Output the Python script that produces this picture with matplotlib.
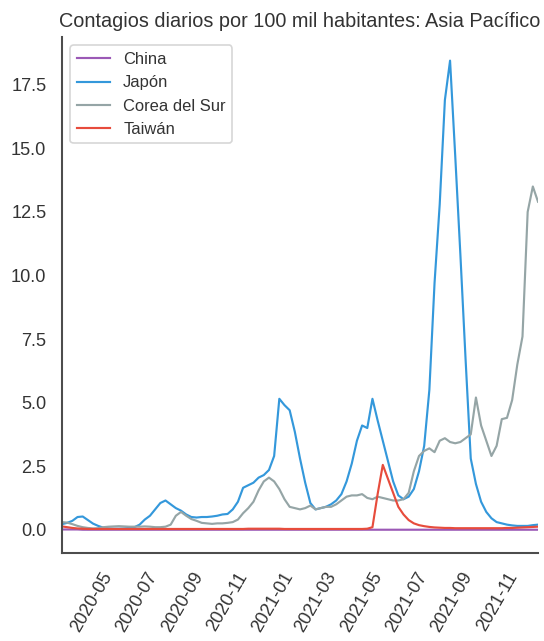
import matplotlib
matplotlib.use("Agg")
import matplotlib.pyplot as plt
import matplotlib.dates as mdates
import pandas as pd

# una muestra por semana, 2020-03-22 .. 2021-12-26
fechas = pd.date_range("2020-03-22", periods=93, freq="7D")

china = [0.01, 0.01, 0.01, 0.01, 0.0, 0.0, 0.0, 0.0, 0.0, 0.0,
         0.0, 0.0, 0.0, 0.0, 0.0, 0.0, 0.0, 0.0, 0.0, 0.0,
         0.0, 0.0, 0.0, 0.0, 0.0, 0.0, 0.0, 0.0, 0.0, 0.0,
         0.0, 0.0, 0.0, 0.0, 0.0, 0.0, 0.0, 0.0, 0.0, 0.0,
         0.0, 0.0, 0.0, 0.0, 0.0, 0.0, 0.0, 0.0, 0.0, 0.0,
         0.0, 0.0, 0.0, 0.0, 0.0, 0.0, 0.0, 0.0, 0.0, 0.0,
         0.0, 0.0, 0.0, 0.0, 0.0, 0.0, 0.0, 0.0, 0.0, 0.0,
         0.0, 0.0, 0.0, 0.0, 0.0, 0.0, 0.0, 0.0, 0.0, 0.0,
         0.0, 0.0, 0.0, 0.0, 0.0, 0.0, 0.0, 0.0, 0.0, 0.0,
         0.0, 0.0, 0.0]

japon = [0.22, 0.27, 0.35, 0.5, 0.52, 0.38, 0.24, 0.15, 0.08, 0.05,
         0.04, 0.04, 0.05, 0.07, 0.1, 0.2, 0.4, 0.55, 0.8, 1.05,
         1.15, 1.0, 0.85, 0.75, 0.6, 0.5, 0.48, 0.5, 0.5, 0.52,
         0.55, 0.6, 0.62, 0.8, 1.1, 1.65, 1.75, 1.85, 2.05, 2.15,
         2.35, 2.9, 5.15, 4.9, 4.7, 3.85, 2.8, 1.85, 1.05, 0.8,
         0.85, 0.9, 1.0, 1.15, 1.4, 1.9, 2.6, 3.5, 4.1, 4.0,
         5.15, 4.3, 3.5, 2.7, 1.9, 1.35, 1.2, 1.3, 1.6, 2.3,
         3.3, 5.5, 9.7, 12.8, 16.9, 18.45, 14.7, 10.8, 6.7, 2.8,
         1.8, 1.1, 0.7, 0.45, 0.3, 0.25, 0.2, 0.17, 0.15, 0.15,
         0.15, 0.18, 0.2]

corea = [0.3, 0.28, 0.22, 0.15, 0.1, 0.07, 0.05, 0.06, 0.1, 0.12,
         0.13, 0.14, 0.13, 0.12, 0.12, 0.12, 0.13, 0.12, 0.1, 0.1,
         0.12, 0.2, 0.55, 0.7, 0.55, 0.42, 0.35, 0.27, 0.25, 0.23,
         0.25, 0.25, 0.27, 0.3, 0.4, 0.65, 0.85, 1.1, 1.55, 1.9,
         2.05, 1.9, 1.6, 1.2, 0.9, 0.85, 0.8, 0.85, 0.95, 0.8,
         0.85, 0.9, 0.9, 1.0, 1.15, 1.3, 1.35, 1.35, 1.4, 1.25,
         1.2, 1.3, 1.25, 1.2, 1.15, 1.15, 1.2, 1.45, 2.3, 2.9,
         3.1, 3.2, 3.05, 3.5, 3.6, 3.45, 3.4, 3.45, 3.6, 3.75,
         5.2, 4.1, 3.5, 2.9, 3.3, 4.35, 4.4, 5.1, 6.5, 7.6,
         12.5, 13.5, 12.9]

taiwan = [0.13, 0.1, 0.07, 0.05, 0.04, 0.03, 0.03, 0.03, 0.03, 0.03,
          0.03, 0.03, 0.03, 0.03, 0.03, 0.03, 0.03, 0.03, 0.03, 0.03,
          0.03, 0.03, 0.03, 0.03, 0.03, 0.03, 0.03, 0.03, 0.03, 0.03,
          0.03, 0.03, 0.03, 0.03, 0.03, 0.03, 0.04, 0.04, 0.04, 0.04,
          0.04, 0.04, 0.04, 0.03, 0.03, 0.03, 0.03, 0.03, 0.03, 0.03,
          0.03, 0.03, 0.03, 0.03, 0.03, 0.03, 0.03, 0.03, 0.03, 0.04,
          0.1, 1.4, 2.55, 2.0, 1.45, 0.9, 0.6, 0.38, 0.25, 0.18,
          0.14, 0.11, 0.09, 0.08, 0.07, 0.07, 0.06, 0.06, 0.06, 0.06,
          0.06, 0.06, 0.06, 0.06, 0.06, 0.06, 0.07, 0.07, 0.08, 0.09,
          0.1, 0.11, 0.12]

paises = ["China", "Japón", "Corea del Sur", "Taiwán"]
colores = ["#9b59b6", "#3498db", "#95a5a6", "#e74c3c"]

plt.rcParams['font.family'] = ['Liberation Sans', 'DejaVu Sans']
plt.rcParams['text.color'] = '.2'
plt.rcParams['xtick.color'] = '.2'
plt.rcParams['ytick.color'] = '.2'
plt.rcParams['axes.edgecolor'] = '.3'
plt.rcParams['axes.linewidth'] = 1.25

dpi = 119
fig = plt.figure(figsize=(544 / dpi, 641 / dpi), dpi=dpi)
ax = fig.add_axes([0.114, 0.137, 0.875, 0.805])

for serie, nombre, color in zip([china, japon, corea, taiwan], paises, colores):
    ax.plot(fechas, serie, color=color, linewidth=1.3, label=nombre)

ax.set_xlim(fechas[0], fechas[-1])
ax.xaxis.set_major_locator(mdates.MonthLocator(bymonth=[1, 3, 5, 7, 9, 11]))
ax.xaxis.set_major_formatter(mdates.DateFormatter('%Y-%m'))
plt.setp(ax.get_xticklabels(), rotation=60)
ax.tick_params(length=0, pad=9.5, labelsize=11)

for lado in ['top', 'right']:
    ax.spines[lado].set_visible(False)

ax.set_title("Contagios diarios por 100 mil habitantes: Asia Pacífico", fontsize=12)
ax.legend(loc='upper left', fontsize=10)

fig.savefig("out.png", dpi=dpi)
